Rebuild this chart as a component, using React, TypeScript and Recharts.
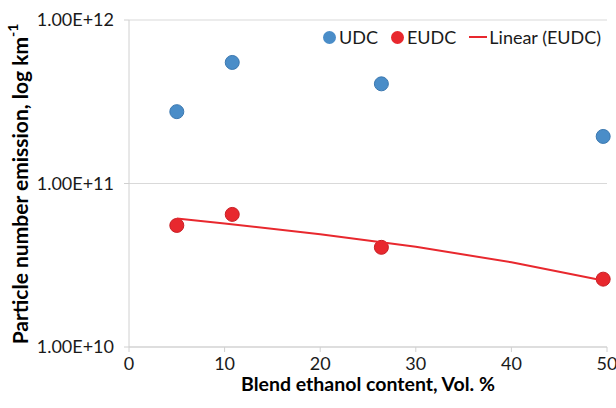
import { ScatterChart, Scatter, XAxis, YAxis, CartesianGrid } from 'recharts';

const udcX = [5, 10.8, 26.4, 49.6];
const udcY = [2.75e11, 5.5e11, 4.07e11, 1.94e11];
const eudcX = [5, 10.8, 26.4, 49.6];
const eudcY = [5.54e10, 6.47e10, 4.07e10, 2.6e10];
// points
const trendX = [5, 10, 20, 30, 40, 49.6];
const trendY = [6.1e10, 5.7e10, 4.9e10, 4.1e10, 3.3e10, 2.55e10];
const xTicks = [0, 10, 20, 30, 40, 50];
const yTicks = [1e10, 1e11, 1e12];

const FONT = 'Lato, "Open Sans", sans-serif';
const BLUE = '#4a8dc8';
const RED = '#e8282e';

const udc = udcX.map((x, i) => ({ x, y: udcY[i] }));
const eudc = eudcX.map((x, i) => ({ x, y: eudcY[i] }));
const trend = trendX.map((x, i) => ({ x, y: trendY[i] }));

const fmtY = (v: number) => v.toExponential(2).toUpperCase();

function Dot({ cx, cy, fill, stroke }: any) {
  return <circle cx={cx} cy={cy} r={7} fill={fill} stroke={stroke} strokeWidth={1} />;
}

function LegendBox() {
  const item = { display: 'flex', alignItems: 'center', marginRight: 13 } as const;
  return (
    <div style={{ position: 'absolute', top: 25, left: 323, display: 'flex', fontFamily: FONT, fontSize: 18, color: '#1a1a1a', lineHeight: '24px' }}>
      <div style={item}>
        <span style={{ width: 13, height: 13, borderRadius: 7, background: BLUE, marginRight: 3 }} />
        UDC
      </div>
      <div style={item}>
        <span style={{ width: 13, height: 13, borderRadius: 7, background: RED, marginRight: 3 }} />
        EUDC
      </div>
      <div style={{ ...item, marginRight: 0 }}>
        <span style={{ width: 18, height: 2, background: RED, marginRight: 2 }} />
        Linear (EUDC)
      </div>
    </div>
  );
}

function YLabel() {
  return (
    <text
      x={19}
      y={184}
      transform="rotate(-90 19 184)"
      textAnchor="middle"
      dominantBaseline="central"
      fontFamily={FONT}
      fontSize={21}
      fontWeight="bold"
      fill="#000"
    >
      Particle number emission, log km
      <tspan dy={-7} fontSize={14}>-1</tspan>
    </text>
  );
}

export default function App() {
  return (
    <div style={{ position: 'absolute', left: 0, top: 0, width: 616, height: 408, background: '#fff' }}>
      <ScatterChart width={616} height={408} margin={{ top: 20, right: 9, bottom: 0, left: 0 }}>
        <CartesianGrid vertical={false} stroke="#d9d9d9" />
        <XAxis
          type="number"
          dataKey="x"
          domain={[0, 50]}
          ticks={xTicks}
          interval={0}
          axisLine={{ stroke: '#d0d0d0' }}
          tickLine={{ stroke: '#d0d0d0' }}
          tickSize={5}
          tickMargin={5}
          tick={{ fontFamily: FONT, fontSize: 18, fill: '#1a1a1a' }}
          height={61}
          label={{ value: 'Blend ethanol content, Vol. %', position: 'insideBottom', offset: 17, fontFamily: FONT, fontSize: 19.5, fontWeight: 'bold', fill: '#000' }}
        />
        <YAxis
          type="number"
          dataKey="y"
          scale="log"
          domain={[1e10, 1e12]}
          ticks={yTicks}
          interval={0}
          allowDataOverflow
          tickFormatter={fmtY}
          axisLine={{ stroke: '#d0d0d0' }}
          tickLine={{ stroke: '#d0d0d0' }}
          tickSize={5}
          tickMargin={10}
          tick={{ fontFamily: FONT, fontSize: 18, fill: '#1a1a1a' }}
          width={129}
          label={<YLabel />}
        />
        <Scatter name="UDC" data={udc} fill={BLUE} shape={<Dot fill={BLUE} stroke="#3b78b0" />} isAnimationActive={false} />
        <Scatter name="EUDC" data={eudc} fill={RED} shape={<Dot fill={RED} stroke="#c81e24" />} isAnimationActive={false} />
        <Scatter
          name="Linear (EUDC)"
          data={trend}
          line={{ stroke: RED, strokeWidth: 2 }}
          lineType="joint"
          shape={() => <g />}
          isAnimationActive={false}
        />
      </ScatterChart>
      <LegendBox />
    </div>
  );
}
